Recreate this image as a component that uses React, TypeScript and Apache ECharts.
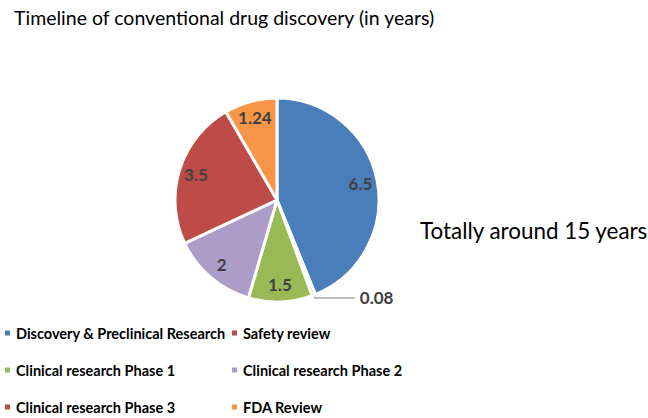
import React, { useEffect, useRef } from "react";
import * as echarts from "echarts";

const categories = [
  "Discovery & Preclinical Research",
  "Safety review",
  "Clinical research Phase 1",
  "Clinical research Phase 2",
  "Clinical research Phase 3",
  "FDA Review",
];
const values = [6.5, 0.08, 1.5, 2, 3.5, 1.24];
const colors = ["#4A7EBB", "#BE4B48", "#98B954", "#AD9BC8", "#BE4B48", "#F79646"];
const leftLegend = [categories[0], categories[2], categories[4]];
const rightLegend = [categories[1], categories[3], categories[5]];
const titleText = "Timeline of conventional drug discovery (in years)";
const noteText = "Totally around 15 years";

export default function App() {
  const ref = useRef<HTMLDivElement>(null);
  useEffect(() => {
    if (!ref.current) return;
    const chart = echarts.init(ref.current, null, { renderer: "svg" });
    const font = "Lato";
    const mainData = categories.map((name, i) => ({
      name,
      value: values[i],
      itemStyle: { color: colors[i] },
      label: i === 1 ? { show: true, position: "outside" } : { show: false },
      labelLine: { show: i === 1 },
    }));
    const overlayData = categories.map((name, i) => ({
      name,
      value: values[i],
      label: { show: i !== 1 },
    }));
    const legendCommon = {
      orient: "vertical" as const,
      icon: "rect",
      itemWidth: 7,
      itemHeight: 7,
      itemGap: 19,
      padding: 0,
      height: 150,
      textStyle: {
        fontFamily: font,
        fontSize: 14.5,
        lineHeight: 18,
        fontWeight: "bold" as const,
        color: "#000",
      },
    };
    chart.setOption({
      animation: false,
      color: colors,
      title: [
        {
          text: titleText,
          left: 14,
          top: 7,
          padding: 0,
          textStyle: { fontFamily: font, fontSize: 19.5, fontWeight: "normal", color: "#000" },
        },
        {
          text: noteText,
          left: 420,
          top: 219,
          padding: 0,
          textStyle: { fontFamily: font, fontSize: 22.4, fontWeight: "normal", color: "#000" },
        },
      ],
      legend: [
        { ...legendCommon, left: 3, top: 324, data: leftLegend },
        { ...legendCommon, left: 230, top: 324, data: rightLegend },
      ],
      series: [
        {
          type: "pie",
          center: [277, 200],
          radius: 102,
          startAngle: 90,
          clockwise: true,
          avoidLabelOverlap: false,
          itemStyle: { borderColor: "#fff", borderWidth: 3 },
          label: {
            fontFamily: font,
            fontSize: 17,
            fontWeight: "bold",
            color: "#404040",
            formatter: "{c}",
          },
          labelLine: { length: 3, length2: 40, lineStyle: { color: "#A6A6A6", width: 1.5 } },
          data: mainData,
        },
        {
          type: "pie",
          center: [277, 200],
          radius: 164,
          startAngle: 90,
          clockwise: true,
          silent: true,
          avoidLabelOverlap: false,
          itemStyle: { color: "rgba(0,0,0,0)" },
          label: {
            position: "inside",
            fontFamily: font,
            fontSize: 17,
            fontWeight: "bold",
            color: "#404040",
            formatter: "{c}",
          },
          labelLine: { show: false },
          data: overlayData,
        },
      ],
    });
    return () => chart.dispose();
  }, []);
  return <div ref={ref} style={{ position: "fixed", left: 0, top: 0, width: 648, height: 418, background: "#fff" }} />;
}
